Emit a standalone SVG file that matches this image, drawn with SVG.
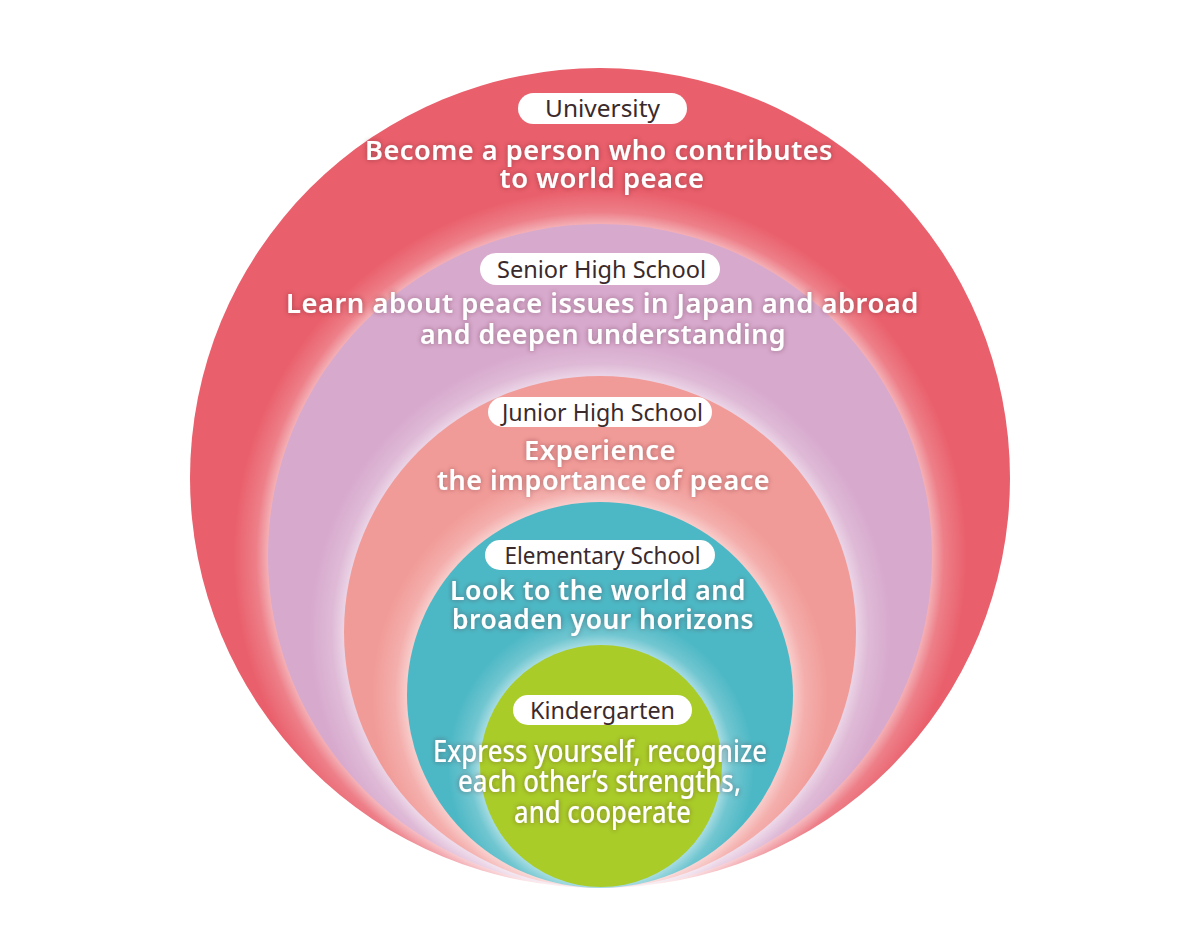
<svg xmlns="http://www.w3.org/2000/svg" width="1200" height="943" viewBox="0 0 1200 943">
<style>
.pill{fill:#ffffff}
.lbl{font-family:"Noto Sans","Open Sans","Liberation Sans",sans-serif;font-size:23px;font-weight:400;fill:#3b2a2c;text-anchor:middle}
.body{font-family:"Noto Sans","Open Sans","Liberation Sans",sans-serif;font-size:27px;font-weight:600;fill:#ffffff;text-anchor:middle;letter-spacing:0.5px}
.kbody{font-family:"Noto Sans","Liberation Sans",sans-serif;font-size:30px;font-weight:500;fill:#ffffff;text-anchor:middle}
</style>
<defs>
<radialGradient id="hLav"><stop offset="0.905" stop-color="#fff" stop-opacity="0.5"/><stop offset="0.937" stop-color="#fff" stop-opacity="0.2"/><stop offset="1" stop-color="#fff" stop-opacity="0"/></radialGradient>
<radialGradient id="hSal"><stop offset="0.88" stop-color="#fff" stop-opacity="0.5"/><stop offset="0.921" stop-color="#fff" stop-opacity="0.2"/><stop offset="1" stop-color="#fff" stop-opacity="0"/></radialGradient>
<radialGradient id="hTeal"><stop offset="0.846" stop-color="#fff" stop-opacity="0.5"/><stop offset="0.899" stop-color="#fff" stop-opacity="0.2"/><stop offset="1" stop-color="#fff" stop-opacity="0"/></radialGradient>
<radialGradient id="hGrn"><stop offset="0.791" stop-color="#fff" stop-opacity="0.5"/><stop offset="0.863" stop-color="#fff" stop-opacity="0.2"/><stop offset="1" stop-color="#fff" stop-opacity="0"/></radialGradient>
<filter id="tg" x="-10%" y="-30%" width="120%" height="160%">
<feGaussianBlur in="SourceAlpha" stdDeviation="2.5" result="b"/>
<feFlood flood-color="#4a2228" flood-opacity="0.45"/>
<feComposite in2="b" operator="in" result="s"/>
<feMerge><feMergeNode in="s"/><feMergeNode in="SourceGraphic"/></feMerge>
</filter>
</defs>
<rect width="1200" height="943" fill="#ffffff"/>
<g id="university">
<circle cx="600" cy="478" r="410" fill="#E95F6B"/>
<rect class="pill" x="518" y="93" width="169" height="31" rx="15.5"/>
<text class="lbl" x="602.5" y="117" textLength="115" lengthAdjust="spacingAndGlyphs">University</text>
<text class="body" filter="url(#tg)"><tspan x="599" y="160" textLength="468" lengthAdjust="spacingAndGlyphs">Become a person who contributes</tspan><tspan x="602" y="188" textLength="205" lengthAdjust="spacingAndGlyphs">to world peace</tspan></text>
</g>
<g id="senior-high-school">
<circle cx="600" cy="556" r="367" fill="url(#hLav)"/>
<circle cx="600" cy="556" r="332" fill="#D7A9CD"/>
<rect class="pill" x="480" y="253" width="240" height="32" rx="16"/>
<text class="lbl" x="601.5" y="278" textLength="209" lengthAdjust="spacingAndGlyphs">Senior High School</text>
<text class="body" filter="url(#tg)"><tspan x="602.5" y="313" textLength="633" lengthAdjust="spacingAndGlyphs">Learn about peace issues in Japan and abroad</tspan><tspan x="603" y="344" textLength="366" lengthAdjust="spacingAndGlyphs">and deepen understanding</tspan></text>
</g>
<g id="junior-high-school">
<circle cx="600" cy="632" r="291" fill="url(#hSal)"/>
<circle cx="600" cy="632" r="256" fill="#F19B98"/>
<rect class="pill" x="488" y="397" width="224" height="30" rx="15"/>
<text class="lbl" x="602.5" y="421" textLength="201" lengthAdjust="spacingAndGlyphs">Junior High School</text>
<text class="body" filter="url(#tg)"><tspan x="600" y="460" textLength="152" lengthAdjust="spacingAndGlyphs">Experience</tspan><tspan x="603.5" y="490" textLength="333" lengthAdjust="spacingAndGlyphs">the importance of peace</tspan></text>
</g>
<g id="elementary-school">
<circle cx="600" cy="695" r="228" fill="url(#hTeal)"/>
<circle cx="600" cy="695" r="193" fill="#4DB8C5"/>
<rect class="pill" x="485" y="540" width="230" height="30" rx="15"/>
<text class="lbl" x="602.5" y="564" textLength="196" lengthAdjust="spacingAndGlyphs">Elementary School</text>
<text class="body" filter="url(#tg)"><tspan x="598" y="600" textLength="296" lengthAdjust="spacingAndGlyphs">Look to the world and</tspan><tspan x="603" y="629" textLength="302" lengthAdjust="spacingAndGlyphs">broaden your horizons</tspan></text>
</g>
<g id="kindergarten">
<circle cx="601" cy="766" r="153" fill="url(#hGrn)"/>
<circle cx="601" cy="766" r="121" fill="#A9CC29"/>
<rect class="pill" x="513" y="695" width="179" height="30" rx="15"/>
<text class="lbl" x="602.5" y="719" font-size="25" textLength="145" lengthAdjust="spacingAndGlyphs">Kindergarten</text>
<text class="kbody" filter="url(#tg)"><tspan x="600" y="762" textLength="334" lengthAdjust="spacingAndGlyphs">Express yourself, recognize</tspan><tspan x="599.5" y="792" textLength="283" lengthAdjust="spacingAndGlyphs">each other’s strengths,</tspan><tspan x="602.5" y="823" textLength="177" lengthAdjust="spacingAndGlyphs">and cooperate</tspan></text>
</g>
<g id="connectors"/>
</svg>
